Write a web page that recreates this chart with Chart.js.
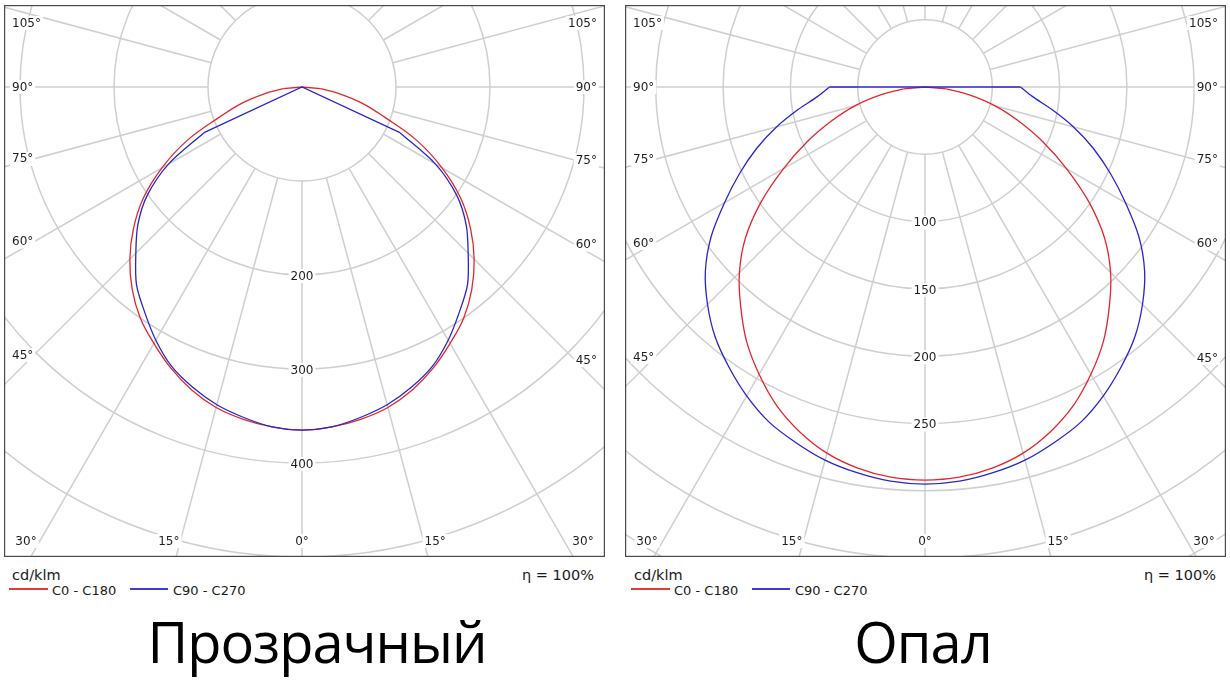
<!DOCTYPE html>
<html lang="ru">
<head>
<meta charset="UTF-8">
<title>КСС — Прозрачный / Опал</title>
<script src="https://cdn.jsdelivr.net/npm/chart.js@4.4.0/dist/chart.umd.min.js"></script>
<style>
  body { margin: 0; background: #fff; width: 1230px; height: 695px; position: relative; overflow: hidden;
         font-family: "DejaVu Sans", sans-serif; color: #1a1a1a; }
  canvas { position: absolute; }
  .t { position: absolute; white-space: nowrap; line-height: 1; }
  .unit, .eta { font-size: 14.5px; top: 568px; }
  .leg { font-size: 13px; top: 584px; }
  .swatch { position: absolute; top: 588px; height: 1.5px; }
  .caption { position: absolute; top: 613px; width: 500px; text-align: center; line-height: 1;
             font-family: "Open Sans", sans-serif; font-size: 56px; letter-spacing: -1px; color: #000; }
</style>
</head>
<body>

<canvas id="clear" width="601" height="552" style="left:4px;top:5px;width:601px;height:552px"></canvas>
<canvas id="opal" width="601" height="552" style="left:625px;top:5px;width:601px;height:552px"></canvas>

<div class="t unit" style="left:12px">cd/klm</div>
<div class="t eta" style="right:636px">η = 100%</div>
<div class="swatch" style="left:9px;width:39px;background:#e8383c"></div>
<div class="t leg" style="left:52px">C0 - C180</div>
<div class="swatch" style="left:130px;width:38px;background:#3a3ade"></div>
<div class="t leg" style="left:173px">C90 - C270</div>

<div class="t unit" style="left:634px">cd/klm</div>
<div class="t eta" style="right:14px">η = 100%</div>
<div class="swatch" style="left:631px;width:39px;background:#e8383c"></div>
<div class="t leg" style="left:674px">C0 - C180</div>
<div class="swatch" style="left:752px;width:38px;background:#3a3ade"></div>
<div class="t leg" style="left:795px">C90 - C270</div>

<div class="caption" style="left:67px">Прозрачный</div>
<div class="caption" style="left:673px">Опал</div>

<script>
// gamma angles (deg from nadir), same for every curve
const GAMMA = [0, 5, 10, 15, 20, 25, 30, 35, 40, 45, 50, 55, 60, 65, 70, 75, 80, 85, 90, 95];

// cd/klm
const clearC0  = [365, 363, 359, 353, 343, 330, 315, 300, 281, 259, 234, 206, 172, 135, 93, 66, 40, 20, 0, 0];
const clearC90 = [365, 363, 357, 350, 340, 328, 311, 292, 274, 250, 228, 201, 164, 115, 0, 0, 0, 0, 0, 0];
const opalC0   = [292, 291, 287.5, 281.6, 272.5, 261, 246.5, 231, 213, 195, 174, 148.5, 121.5, 97, 74, 54, 33.5, 16, 0, 0];
const opalC90  = [295, 294, 291, 287, 281, 274.5, 265, 254, 242.5, 228.5, 213, 194, 172, 152, 133, 114, 95.5, 80, 71, 0];

// ring value labels and angle labels
const clearRingLabels = [200, 300, 400];
const opalRingLabels  = [100, 150, 200, 250];
const DEG_SIDE   = [105, 90, 75, 60, 45];
const DEG_BOTTOM = [30, 15, 0];

const RED = '#e3262b';
const BLUE = '#2626cc';

function toXY(side, g, v) {
  const t = g * Math.PI / 180;
  return { x: side * v * Math.sin(t), y: -v * Math.cos(t) };
}

// smooth body: last lit angle on the left (C180 / C270) round to the same on the right (C0 / C90)
// tail: straight run from the last lit angle into the centre and out again
function polarParts(vals) {
  let last = vals.length - 1;
  while (last > 0 && vals[last] === 0) last--;
  const end = Math.min(last + 1, vals.length - 1);
  const body = [], tail = [];
  for (let i = last; i >= 0; i--) body.push(toXY(-1, GAMMA[i], vals[i]));
  for (let i = 1; i <= last; i++) body.push(toXY(1, GAMMA[i], vals[i]));
  for (let i = last; i <= end; i++) tail.push(toXY(-1, GAMMA[i], vals[i]));
  for (let i = end; i >= last; i--) tail.push(toXY(1, GAMMA[i], vals[i]));
  return { body, tail };
}

const polarGrid = {
  id: 'polarGrid',
  beforeDatasetsDraw(chart, args, o) {
    const { ctx, chartArea: a, scales: { x, y } } = chart;
    const cx = x.getPixelForValue(0), cy = y.getPixelForValue(0);
    const px = v => x.getPixelForValue(v) - cx;
    ctx.save();
    ctx.beginPath();
    ctx.rect(a.left, a.top, a.right - a.left, a.bottom - a.top);
    ctx.clip();

    ctx.strokeStyle = '#cfcfcf';
    ctx.lineWidth = 1.5;
    for (let k = 1; k <= o.rings; k++) {
      ctx.beginPath();
      ctx.arc(cx, cy, px(o.step * k), 0, 2 * Math.PI);
      ctx.stroke();
    }
    const r0 = px(o.step);
    const far = Math.hypot(a.right - a.left, a.bottom - a.top);
    for (let g = 0; g < 360; g += 15) {
      const t = g * Math.PI / 180, dx = Math.sin(t), dy = Math.cos(t);
      ctx.beginPath();
      ctx.moveTo(cx + dx * r0, cy + dy * r0);
      ctx.lineTo(cx + dx * far, cy + dy * far);
      ctx.stroke();
    }

    ctx.font = '12px "DejaVu Sans"';
    ctx.textBaseline = 'middle';
    const label = (txt, tx, ty, align) => {
      ctx.textAlign = align;
      const w = ctx.measureText(txt).width;
      const lx = align === 'left' ? tx : align === 'right' ? tx - w : tx - w / 2;
      ctx.fillStyle = '#fff';
      ctx.fillRect(lx - 2, ty - 7, w + 4, 14);
      ctx.fillStyle = '#1e1e1e';
      ctx.fillText(txt, tx, ty + 0.5);
    };

    o.ringLabels.forEach(v => label(String(v), cx, cy + px(v) + 1, 'center'));

    DEG_SIDE.forEach(g => {
      const tg = Math.tan(g * Math.PI / 180);
      const yl = Math.max(a.top + 18, cy + (cx - a.left - 30) / tg);
      const yr = Math.max(a.top + 18, cy + (a.right - cx - 30) / tg);
      label(g + '°', a.left + 8, yl, 'left');
      label(g + '°', a.right - 8, yr, 'right');
    });
    const yb = a.bottom - 16;
    DEG_BOTTOM.forEach(g => {
      const off = (a.bottom - cy + 27) * Math.tan(g * Math.PI / 180);
      label(g + '°', Math.max(a.left + 22, cx - off), yb, 'center');
      if (g) label(g + '°', Math.min(a.right - 22, cx + off), yb, 'center');
    });
    ctx.restore();
  },
  afterDraw(chart) {
    const { ctx, chartArea: a } = chart;
    ctx.save();
    ctx.strokeStyle = '#4a4a4a';
    ctx.lineWidth = 1.2;
    ctx.strokeRect(a.left + 0.6, a.top + 0.6, a.right - a.left - 1.2, a.bottom - a.top - 1.2);
    ctx.restore();
  }
};

function makePanel(id, cxPx, cyPx, pxPerUnit, c0, c90, step, rings, ringLabels) {
  const canvas = document.getElementById(id);
  const W = canvas.width, H = canvas.height;
  const red = polarParts(c0), blue = polarParts(c90);
  new Chart(canvas, {
    type: 'scatter',
    data: {
      datasets: [
        { label: 'C0 - C180', data: red.body, borderColor: RED, order: 4, tension: 0.4 },
        { label: 'C0 - C180', data: red.tail, borderColor: RED, order: 3, tension: 0 },
        { label: 'C90 - C270', data: blue.body, borderColor: BLUE, order: 2, tension: 0.3 },
        { label: 'C90 - C270', data: blue.tail, borderColor: BLUE, order: 1, tension: 0 }
      ]
    },
    options: {
      responsive: false,
      animation: false,
      events: [],
      layout: { padding: 0 },
      showLine: true,
      elements: {
        point: { radius: 0 },
        line: { borderWidth: 1.3, fill: false }
      },
      plugins: {
        legend: { display: false },
        tooltip: { enabled: false },
        polarGrid: { step, rings, ringLabels }
      },
      scales: {
        x: { type: 'linear', display: false, min: -cxPx / pxPerUnit, max: (W - cxPx) / pxPerUnit },
        y: { type: 'linear', display: false, min: -(H - cyPx) / pxPerUnit, max: cyPx / pxPerUnit }
      }
    },
    plugins: [polarGrid]
  });
}

makePanel('clear', 298, 82, 0.94, clearC0, clearC90, 100, 6, clearRingLabels);
makePanel('opal', 300, 82, 1.346, opalC0, opalC90, 50, 9, opalRingLabels);
</script>
</body>
</html>
